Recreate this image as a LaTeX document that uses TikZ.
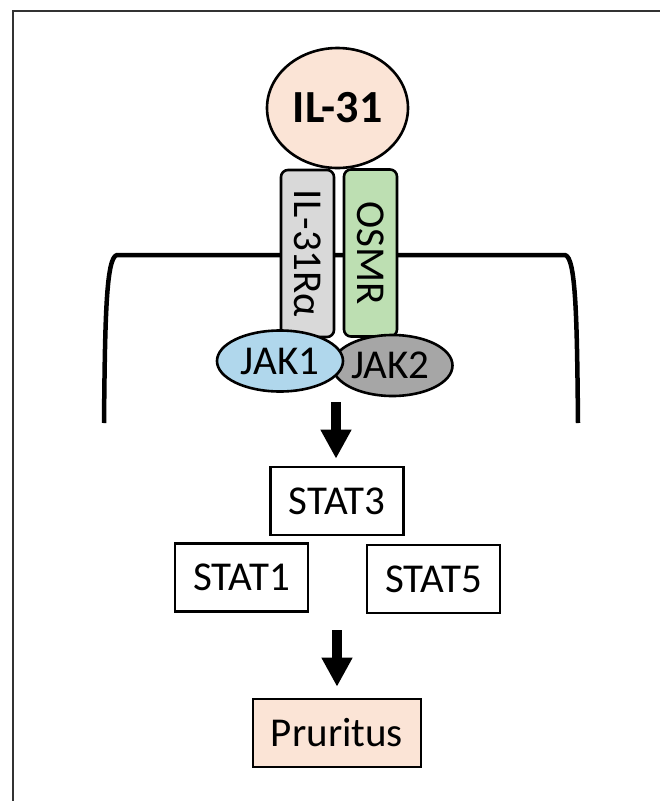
\documentclass[tikz,border=0pt]{standalone}
\usepackage{fontspec}
\setmainfont{Carlito}
\usetikzlibrary{shapes.geometric,arrows.meta}
\definecolor{peach}{HTML}{FBE4D6}
\definecolor{recgray}{HTML}{D9D9D9}
\definecolor{recgreen}{HTML}{BDDFB2}
\definecolor{jakblue}{HTML}{B0D7EC}
\definecolor{jakgray}{HTML}{A6A6A6}
\definecolor{frame}{HTML}{333333}
\tikzset{
  txt/.style={font=\fontsize{41}{46}\selectfont},
  outl/.style={draw=black, line width=2.6pt},
  receptor/.style={outl, txt, rounded corners=7pt, rotate=-90, minimum width=167pt, minimum height=53pt, inner sep=0pt},
  jak/.style={outl, txt, ellipse, inner sep=0pt, minimum height=61pt},
  statbox/.style={outl, txt, rectangle, minimum width=133pt, minimum height=68pt, inner sep=0pt},
  bigarrow/.style={line width=10pt, -{Triangle[width=29pt,length=29pt]}}
}
\begin{document}
\begin{tikzpicture}[x=1pt,y=-1pt]
\useasboundingbox (0,0) rectangle (660,801);
\fill[white] (0,0) rectangle (660,801);
\draw[line width=2pt, color=frame] (13,801) -- (13,11) -- (660,11);
% membrane
\draw[line width=4.5pt, line cap=butt, line join=round] (104,423) .. controls (105,320) and (106,257) .. (117,255) -- (565,255) .. controls (576,257) and (577,320) .. (578,423);
% ligand
\node[outl, ellipse, fill=peach, minimum width=141pt, minimum height=120pt, inner sep=0pt, font=\fontsize{46}{50}\selectfont\bfseries] (il31) at (337.5,108) {IL-31};
% receptors
\node[receptor, fill=recgray] (ra) at (307.5,253.5) {IL-31Rα};
\node[receptor, fill=recgreen] (osmr) at (370.5,253) {OSMR};
% JAKs
\node[jak, fill=jakgray, minimum width=120pt] (jak2) at (392.5,365.5) {\hspace*{-4pt}JAK2};
\node[jak, fill=jakblue, minimum width=126pt] (jak1) at (280,361) {JAK1};
% STATs
\node[statbox] (stat3) at (337,501) {STAT3};
\node[statbox] (stat1) at (241.5,577.5) {STAT1};
\node[statbox] (stat5) at (433.5,579) {STAT5};
\node[statbox, fill=peach, minimum width=168pt] (prur) at (337,733) {Pruritus};
% arrows
\coordinate (a1) at (336,402);
\coordinate (a2) at (337,630);
\draw[bigarrow, shorten >=7pt] (a1) -- (stat3.north -| a1);
\draw[bigarrow, shorten >=11pt] (a2) -- (prur.north -| a2);
\end{tikzpicture}
\end{document}
